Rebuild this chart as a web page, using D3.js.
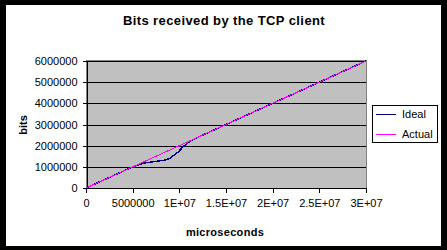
<!DOCTYPE html>
<html><head><meta charset="utf-8">
<script src="https://cdn.jsdelivr.net/npm/d3@7/dist/d3.min.js"></script>
<style>
html,body{margin:0;padding:0;background:#000;}
svg{display:block;}
text{font-family:"Liberation Sans",Arial,sans-serif;}
</style></head><body>
<svg id="c" width="447" height="250"></svg>
<script>
// ---- data ----
const title = "Bits received by the TCP client";
const xLabel = "microseconds";
const yLabel = "bits";
const seriesNames = ["Ideal", "Actual"];
const seriesColors = ["#000080", "#ff00ff"];
// Ideal (navy) series: [microseconds, bits]
const idealX = [0, 5000000, 5600000, 6100000, 7200000, 8500000, 9000000, 9300000, 9900000, 10400000, 11100000, 11700000, 30000000];
const idealY = [0, 1000000, 1080000, 1170000, 1240000, 1320000, 1400000, 1510000, 1710000, 1950000, 2190000, 2340000, 6000000];
// Actual (magenta) series
const actualX = [0, 30000000];
const actualY = [0, 6000000];
const xTicks = [0, 5000000, 10000000, 15000000, 20000000, 25000000, 30000000];
const xTickLabels = ["0", "5000000", "1E+07", "1.5E+07", "2E+07", "2.5E+07", "3E+07"];
const yTicks = [0, 1000000, 2000000, 3000000, 4000000, 5000000, 6000000];
const yTickLabels = ["0", "1000000", "2000000", "3000000", "4000000", "5000000", "6000000"];

// ---- layout ----
const svg = d3.select("#c");
svg.append("rect").attr("x", 6).attr("y", 5).attr("width", 435).attr("height", 241).attr("fill", "#fff");

const L = 86, R = 366, T = 61, B = 188;
const x = d3.scaleLinear().domain([0, 30000000]).range([L, R]);
const y = d3.scaleLinear().domain([0, 6000000]).range([B, T]);

// plot area
svg.append("rect").attr("x", L).attr("y", T - 1).attr("width", R - L).attr("height", B - T + 1)
  .attr("fill", "#c0c0c0").attr("stroke", "#808080").attr("stroke-width", 1)
  .attr("shape-rendering", "crispEdges");

// gridlines
svg.append("g").selectAll("line").data(yTicks.filter(d => d > 0)).join("line")
  .attr("x1", L).attr("x2", R).attr("y1", d => Math.round(y(d)) + 0.5).attr("y2", d => Math.round(y(d)) + 0.5)
  .attr("stroke", "#000").attr("shape-rendering", "crispEdges");

// axes
const yAxis = d3.axisLeft(y).tickValues(yTicks).tickFormat((d, i) => yTickLabels[i]).tickSize(4).tickPadding(5);
const gy = svg.append("g").attr("transform", `translate(${L + 0.5},0)`).call(yAxis);
const xAxis = d3.axisBottom(x).tickValues(xTicks).tickFormat((d, i) => xTickLabels[i]).tickSize(4).tickPadding(7);
const gx = svg.append("g").attr("transform", `translate(0,${B + 0.5})`).call(xAxis);
[gx, gy].forEach(g => {
  g.select(".domain").attr("stroke", "#000").attr("shape-rendering", "crispEdges");
  g.selectAll(".tick line").attr("stroke", "#000").attr("shape-rendering", "crispEdges");
  g.selectAll("text").attr("fill", "#000").style("font-size", "11px").style("font-family", "'Liberation Sans',Arial,sans-serif");
});
gx.select(".domain").attr("d", `M${L},4V0H${R}V4`);

// lines
const line = d3.line().x(d => x(d[0])).y(d => y(d[1]));
const idealData = idealX.map((v, i) => [v, idealY[i]]);
const actualData = actualX.map((v, i) => [v, actualY[i]]);
svg.append("path").datum(idealData).attr("d", line).attr("fill", "none")
  .attr("stroke", seriesColors[0]).attr("stroke-width", 1.5).attr("shape-rendering", "crispEdges");
svg.append("path").datum(actualData).attr("d", line).attr("fill", "none")
  .attr("stroke", seriesColors[1]).attr("stroke-width", 1).attr("shape-rendering", "crispEdges");

// title & labels
svg.append("text").attr("x", 224).attr("y", 25).attr("text-anchor", "middle")
  .style("font-size", "13px").style("font-weight", "bold").style("letter-spacing", "0.4px").text(title);
svg.append("text").attr("x", 225).attr("y", 236).attr("text-anchor", "middle")
  .style("font-size", "11px").style("font-weight", "bold").style("letter-spacing", "0.3px").text(xLabel);
svg.append("text").attr("transform", `translate(27,125) rotate(-90)`).attr("text-anchor", "middle")
  .style("font-size", "11px").style("font-weight", "bold").text(yLabel);

// legend
const lg = svg.append("g");
lg.append("rect").attr("x", 372.5).attr("y", 105.5).attr("width", 65).attr("height", 37)
  .attr("fill", "#fff").attr("stroke", "#000").attr("shape-rendering", "crispEdges");
seriesNames.forEach((n, i) => {
  const yy = 114 + i * 20;
  lg.append("line").attr("x1", 376).attr("x2", 396).attr("y1", yy + 0.5).attr("y2", yy + 0.5)
    .attr("stroke", seriesColors[i]).attr("shape-rendering", "crispEdges");
  lg.append("text").attr("x", 402).attr("y", yy + 4).style("font-size", "11px").text(n);
});
</script>
</body></html>
